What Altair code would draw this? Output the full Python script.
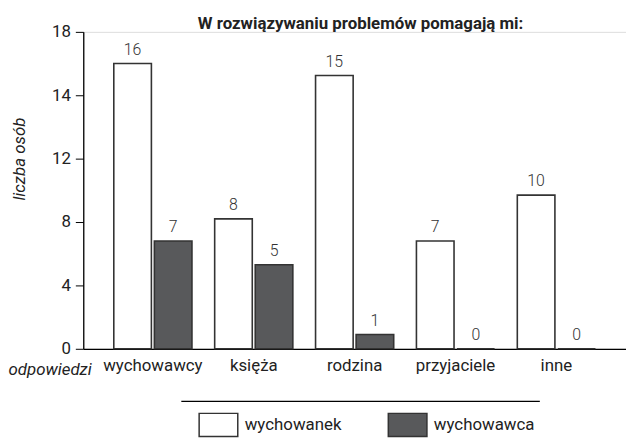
import altair as alt
import pandas as pd

categories = ["wychowawcy", "księża", "rodzina", "przyjaciele", "inne"]
series = ["wychowanek", "wychowawca"]
# bar heights as read against the axis grid (16 px per unit)
heights_wychowanek = [18.0, 8.2, 17.25, 6.8, 9.7]
heights_wychowawca = [6.8, 5.3, 0.9, 0, 0]
# value labels printed above the bars
labels_wychowanek = [16, 8, 15, 7, 10]
labels_wychowawca = [7, 5, 1, 0, 0]
y_ticks = [0, 4, 8, 12, 16, 20]
y_tick_labels = ["0", "4", "8", "12", "14", "18"]
title_text = "W rozwiązywaniu problemów pomagają mi:"
y_title = "liczba osób"
x_title = "odpowiedzi"

rows = []
for i, c in enumerate(categories):
    rows.append(dict(kat=c, seria=series[0], h=heights_wychowanek[i], lab=str(labels_wychowanek[i])))
    rows.append(dict(kat=c, seria=series[1], h=heights_wychowawca[i], lab=str(labels_wychowawca[i])))
df = pd.DataFrame(rows)

FONT = "Roboto"
FS = 17
label_expr = " : ".join(f"datum.value == {v} ? '{l}'" for v, l in zip(y_ticks, y_tick_labels)) + " : datum.label"

x_enc = alt.X(
    "kat:N", sort=categories,
    scale=alt.Scale(paddingInner=0, paddingOuter=0.19),
    axis=alt.Axis(title=x_title, ticks=False, tickSize=0, labelAngle=0, labelFontSize=FS,
                  labelPadding=9, labelColor="#222", domainColor="black", domainWidth=1.3,
                  titleFontStyle="italic", titleFontWeight="normal", titleFontSize=FS,
                  titleColor="#222", titleX=-34, titleY=26, titleBaseline="alphabetic",
                  titleAlign="center"),
)
xo_enc = alt.XOffset("seria:N", sort=series, scale=alt.Scale(paddingInner=0.073, paddingOuter=0.28))
y_enc = alt.Y(
    "h:Q", scale=alt.Scale(domain=[0, 20], nice=False),
    axis=alt.Axis(values=y_ticks, labelExpr=label_expr, title=y_title, grid=False,
                  tickSize=8, tickColor="black", domainColor="black", domainWidth=1.3,
                  labelFontSize=FS, labelPadding=5, labelColor="#222",
                  titleFontStyle="italic", titleFontWeight="normal", titleFontSize=FS,
                  titleColor="#222", titleX=-64, titleY=128, titleBaseline="middle"),
)

base = alt.Chart(df)
bars = base.mark_bar(stroke="#333", strokeWidth=1.6).encode(
    x=x_enc, xOffset=xo_enc, y=y_enc,
    color=alt.Color("seria:N", scale=alt.Scale(domain=series, range=["#ffffff", "#58595b"]),
                    legend=alt.Legend(orient="none", legendX=116, legendY=376, direction="horizontal",
                                      title=None, symbolType="M-1,-0.6H1V0.6H-1Z", symbolSize=1521,
                                      symbolStrokeColor="#333", symbolStrokeWidth=1.5, padding=0,
                                      labelFontSize=FS, labelColor="#222", labelOffset=6,
                                      columnPadding=44, labelFont=FONT)),
)
texts = base.mark_text(dy=-6, baseline="bottom", fontSize=16, color="#333", font=FONT,
                       fontWeight=300).encode(
    x=x_enc, xOffset=xo_enc, y=y_enc, text="lab:N",
)
rule = alt.Chart(pd.DataFrame({"a": [0]})).mark_rule(color="black", strokeWidth=1.2).encode(
    x=alt.value(99), x2=alt.value(461), y=alt.value(373)
)
title = alt.Chart(pd.DataFrame({"t": [title_text]})).mark_text(
    fontSize=17, font=FONT, fontWeight="bold", color="#222", baseline="alphabetic", align="center"
).encode(x=alt.value(280), y=alt.value(-3), text="t:N")

chart = alt.layer(bars, texts, rule, title).properties(
    width=548, height=320,
    autosize=alt.AutoSizeParams(type="none"),
    padding={"left": 76, "top": 22, "right": 0, "bottom": 92},
).configure_view(stroke=None).configure(font=FONT).configure_axis(labelFont=FONT, titleFont=FONT)

chart.save("out.html", embed_options={"renderer": "svg", "actions": False})
